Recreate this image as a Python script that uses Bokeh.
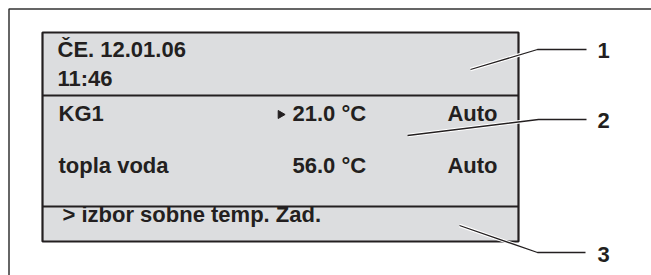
from bokeh.plotting import figure
from bokeh.models import Range1d, ColumnDataSource
from bokeh.core.properties import value
from bokeh.embed import file_html
from bokeh.resources import INLINE

# ---- data (display contents) ----
header_lines = ["ČE. 12.01.06", "11:46"]
circuits = ["KG1", "topla voda"]
temperatures = ["21.0 °C", "56.0 °C"]
modes = ["Auto", "Auto"]
menu_line = ["> izbor sobne temp. Zad."]
callout_labels = ["1", "2", "3"]

INK = "#231f20"
LCD = "#dcdddf"
FONT = "Liberation Sans"
FS = "22px"
DY = -7  # baseline correction

p = figure(width=651, height=275, output_backend="svg", toolbar_location=None,
           x_range=Range1d(0, 651), y_range=Range1d(275, 0), min_border=0)
p.xaxis.visible = False
p.yaxis.visible = False
p.grid.visible = False
p.outline_line_color = None
p.background_fill_color = "white"
p.border_fill_color = "white"

# outer frame (left and top edges visible)
p.line([8.5, 8.5, 651], [275, 8.5, 8.5], line_color="#333333", line_width=1.5)

# LCD panel
p.quad(left=[42], right=[518], top=[32], bottom=[241], fill_color=LCD,
       line_color=INK, line_width=2.2)
p.segment(x0=[42, 42], y0=[95, 206], x1=[518, 518], y1=[95, 206],
          line_color=INK, line_width=2)

# callout lines (white halo under black line)
cx = [[470, 537, 586], [407, 538, 586], [459, 537, 585]]
cy = [[69, 49, 49], [135, 119, 119], [225, 252, 252]]
p.multi_line(cx, cy, line_color="white", line_width=3.5)
p.multi_line(cx, cy, line_color=INK, line_width=1.3)

def txt(xs, ys, texts, align="left"):
    src = ColumnDataSource(dict(x=xs, y=[v + DY for v in ys], t=texts))
    p.text(x="x", y="y", text="t", source=src, text_font=value(FONT),
           text_font_style="bold", text_font_size=FS, text_color=INK,
           text_align=align, text_baseline="alphabetic")

txt([57, 57], [56, 85], header_lines)
txt([58, 58], [120, 172], circuits)
txt([292, 292], [120, 172], temperatures)
txt([497, 497], [120, 172], modes, align="right")
txt([62], [221], menu_line)

# selection marker before the first temperature
p.scatter([280], [114], marker="triangle", angle=-1.5708, size=8,
          fill_color=INK, line_color=INK)

# callout numbers
txt([597, 597, 597], [57, 127, 261], callout_labels)

open("out.html", "w").write(file_html(p, INLINE))
